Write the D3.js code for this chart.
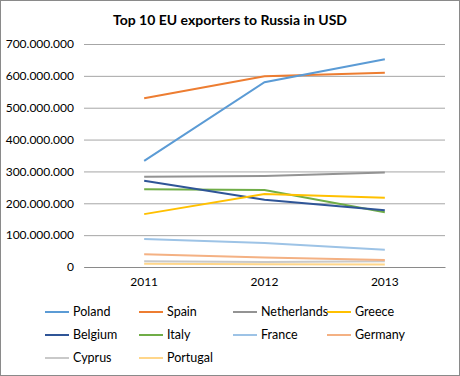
<!DOCTYPE html>
<html>
<head>
<meta charset="utf-8">
<script src="https://cdn.jsdelivr.net/npm/d3@7"></script>
<style>
  body { margin: 0; background: #fff; }
  svg { display: block; font-family: Lato, "Open Sans", sans-serif; }
</style>
</head>
<body>
<div id="chart"></div>
<script>
// data
const years = ["2011", "2012", "2013"];
const countries = ["Poland", "Spain", "Netherlands", "Greece", "Belgium", "Italy", "France", "Germany", "Cyprus", "Portugal"];
const poland = [333000000, 580000000, 652000000];
const spain = [530000000, 599000000, 610000000];
const netherlands = [283000000, 286000000, 297000000];
const greece = [166000000, 229000000, 217000000];
const belgium = [271000000, 211000000, 178000000];
const italy = [244000000, 242000000, 172000000];
const france = [88000000, 75000000, 54000000];
const germany = [40000000, 30000000, 22000000];
const cyprus = [18000000, 16000000, 18000000];
const portugal = [10000000, 9000000, 8000000];
const yTicks = [0, 100000000, 200000000, 300000000, 400000000, 500000000, 600000000, 700000000];

const seriesValues = [poland, spain, netherlands, greece, belgium, italy, france, germany, cyprus, portugal];
const colors = ["#5B9BD5", "#ED7D31", "#939393", "#FFC000", "#2F5597", "#70AD47", "#9DC3E6", "#F4B183", "#C9C9C9", "#FFD68A"];

const W = 460, H = 376;
const margin = {top: 44, right: 15, bottom: 109, left: 84};
const width = W - margin.left - margin.right;
const height = H - margin.top - margin.bottom;

const svg = d3.select("#chart").append("svg")
  .attr("width", W)
  .attr("height", H);

// outer border
svg.append("rect")
  .attr("x", 0.5).attr("y", 0.5)
  .attr("width", W - 1).attr("height", H - 1)
  .attr("fill", "#fff")
  .attr("stroke", "#8a8a8a");

svg.append("text")
  .attr("x", W / 2)
  .attr("y", 25)
  .attr("text-anchor", "middle")
  .attr("font-size", 14)
  .attr("font-weight", "bold")
  .attr("fill", "#000")
  .text("Top 10 EU exporters to Russia in USD");

const chart = svg.append("g")
  .attr("transform", `translate(${margin.left}, ${margin.top})`);

const xScale = d3.scaleBand()
  .domain(years)
  .range([0, width]);

const yScale = d3.scaleLinear()
  .domain([0, 700000000])
  .range([height, 0]);

const fmt = v => v === 0 ? "0" : d3.format(",")(v).replace(/,/g, ".");

// gridlines
chart.append("g")
  .call(d3.axisRight(yScale).tickValues(yTicks).tickSize(width).tickFormat(""))
  .call(g => g.select(".domain").remove())
  .call(g => g.selectAll("line").attr("stroke", "#a6a6a6"));

// y axis labels
const yAxis = chart.append("g")
  .call(d3.axisLeft(yScale).tickValues(yTicks).tickSize(0).tickPadding(10).tickFormat(fmt));
yAxis.select(".domain").remove();
yAxis.selectAll("text").attr("font-size", 12).attr("fill", "#000").attr("font-family", "Lato, sans-serif");

// x axis
const xAxis = chart.append("g")
  .attr("transform", `translate(0, ${height})`)
  .call(d3.axisBottom(xScale).tickSize(0).tickPadding(10));
xAxis.select(".domain").attr("stroke", "#8a8a8a");
xAxis.selectAll("text").attr("font-size", 12).attr("fill", "#000").attr("font-family", "Lato, sans-serif");

const line = d3.line()
  .x((d, i) => xScale(years[i]) + xScale.bandwidth() / 2)
  .y(d => yScale(d));

// draw lines in reverse order so Poland ends on top
const order = d3.range(countries.length).reverse();
chart.append("g")
  .selectAll("path")
  .data(order)
  .join("path")
  .attr("fill", "none")
  .attr("stroke", i => colors[i])
  .attr("stroke-width", 2)
  .attr("d", i => line(seriesValues[i]));

// legend
const legend = svg.append("g")
  .attr("transform", "translate(45, 312)");
const item = legend.selectAll("g")
  .data(countries)
  .join("g")
  .attr("transform", (d, i) => `translate(${(i % 4) * 94}, ${Math.floor(i / 4) * 23})`);
item.append("line")
  .attr("x1", 0).attr("x2", 24)
  .attr("stroke", (d, i) => colors[i])
  .attr("stroke-width", 2);
item.append("text")
  .attr("x", 28)
  .attr("dy", "0.35em")
  .attr("font-size", 12.5)
  .attr("fill", "#000")
  .text(d => d);
</script>
</body>
</html>
